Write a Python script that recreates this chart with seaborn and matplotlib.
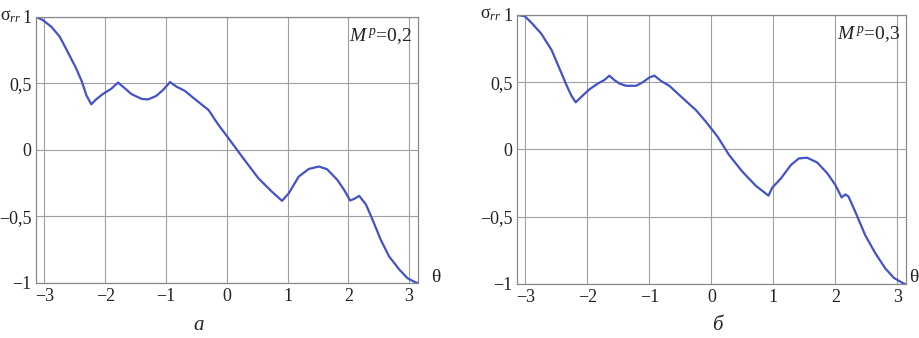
import numpy as np
import pandas as pd
import matplotlib
matplotlib.use("Agg")
import matplotlib.pyplot as plt
import seaborn as sns

theta_a = [-3.14, -3.03, -2.89, -2.75, -2.62, -2.48, -2.385, -2.31, -2.23, -2.15,
           -2.04, -1.90, -1.79, -1.68, -1.57, -1.40, -1.29, -1.16, -1.05, -0.935,
           -0.83, -0.69, -0.52, -0.30, -0.14, 0.0, 0.25, 0.52, 0.74, 0.91,
           1.02, 1.185, 1.35, 1.515, 1.65, 1.82, 1.93, 2.03, 2.09, 2.18,
           2.29, 2.40, 2.535, 2.67, 2.84, 2.975, 3.11, 3.14]
sigma_a = [1.0, 0.977, 0.927, 0.852, 0.739, 0.614, 0.514, 0.41, 0.343, 0.38,
           0.42, 0.46, 0.506, 0.464, 0.42, 0.383, 0.38, 0.406, 0.45, 0.51,
           0.476, 0.444, 0.38, 0.30, 0.19, 0.105, -0.05, -0.213, -0.313, -0.383,
           -0.326, -0.20, -0.143, -0.125, -0.145, -0.226, -0.30, -0.38, -0.37, -0.346,
           -0.41, -0.526, -0.677, -0.80, -0.90, -0.965, -0.997, -1.0]

theta_b = [-3.14, -3.01, -2.88, -2.745, -2.58, -2.45, -2.34, -2.26, -2.19, -2.10,
           -1.97, -1.83, -1.73, -1.645, -1.565, -1.485, -1.38, -1.215, -1.11, -1.0,
           -0.92, -0.81, -0.68, -0.47, -0.25, -0.09, 0.10, 0.285, 0.50, 0.715,
           0.92, 0.98, 1.12, 1.28, 1.41, 1.545, 1.705, 1.87, 2.00, 2.10,
           2.16, 2.21, 2.32, 2.48, 2.645, 2.805, 2.94, 3.07, 3.12]
sigma_b = [1.0, 0.99, 0.93, 0.86, 0.74, 0.60, 0.48, 0.40, 0.35, 0.39,
           0.446, 0.49, 0.515, 0.548, 0.515, 0.49, 0.473, 0.473, 0.498, 0.535,
           0.548, 0.508, 0.473, 0.384, 0.292, 0.206, 0.094, -0.042, -0.166, -0.27,
           -0.344, -0.285, -0.216, -0.117, -0.067, -0.062, -0.097, -0.178, -0.265, -0.357,
           -0.335, -0.35, -0.463, -0.637, -0.773, -0.885, -0.954, -0.99, -1.0]

mp_labels = ["0,2", "0,3"]
panel_labels = ["а", "б"]
xticks = [-3, -2, -1, 0, 1, 2, 3]
xtick_labels = ["\u22123", "\u22122", "\u22121", "0", "1", "2", "3"]
yticks = [-1, -0.5, 0, 0.5, 1]
ytick_labels = ["\u22121", "\u22120,5", "0", "0,5", "1"]

sns.set_style("white")
plt.rcParams.update({
    "font.family": ["Liberation Serif", "DejaVu Serif"],
    "mathtext.fontset": "custom",
    "mathtext.rm": "Liberation Serif",
    "mathtext.it": "Liberation Serif:italic",
    "font.size": 13,
})

line_color = "#4352c8"
grid_color = "#a0a0a0"
text_color = "#222222"

fig = plt.figure(figsize=(9.2, 3.38), dpi=100)
ax_a = fig.add_axes([0.039, 0.163, 0.415, 0.787])
ax_b = fig.add_axes([0.5616, 0.160, 0.4234, 0.796])

data = [(theta_a, sigma_a), (theta_b, sigma_b)]
for ax, (th, sg), mp in zip([ax_a, ax_b], data, mp_labels):
    df = pd.DataFrame({"theta": th, "sigma": sg})
    sns.lineplot(data=df, x="theta", y="sigma", ax=ax, color=line_color,
                 linewidth=1.6, sort=False)
    ax.set_xlim(-np.pi, np.pi)
    ax.set_ylim(-1, 1)
    ax.set_xticks(xticks)
    ax.set_xticklabels(xtick_labels)
    ax.set_yticks(yticks)
    ax.set_yticklabels(ytick_labels)
    ax.set_xlabel("")
    ax.set_ylabel("")
    ax.grid(True, color=grid_color, linewidth=0.8)
    ax.set_axisbelow(True)
    for s in ax.spines.values():
        s.set_color("#888888")
        s.set_linewidth(0.9)
    ax.tick_params(length=0, labelsize=13, colors=text_color)
    ax.tick_params(axis="y", pad=3)
    ax.tick_params(axis="x", pad=4)

    ax.text(0.985, 0.925, r"$M^{\,p}$=" + mp, transform=ax.transAxes,
            ha="right", va="center", fontsize=14, color=text_color)
    ax.text(-0.095, 1.0, r"σ$_{rr}$", transform=ax.transAxes, ha="left",
            va="center", fontsize=13, color=text_color)

# θ axis names, right of each panel
fig.text(431 / 920, 1 - 277 / 338, "θ", ha="left", va="center", fontsize=14, color=text_color)
fig.text(909 / 920, 1 - 277 / 338, "θ", ha="left", va="center", fontsize=14, color=text_color)

# panel letters under the plots
fig.text(199 / 920, 0.008, panel_labels[0], ha="center", va="bottom",
         fontsize=15, style="italic", color=text_color)
fig.text(717 / 920, 0.008, panel_labels[1], ha="center", va="bottom",
         fontsize=15, style="italic", color=text_color)

fig.savefig("out.png", dpi=100)
